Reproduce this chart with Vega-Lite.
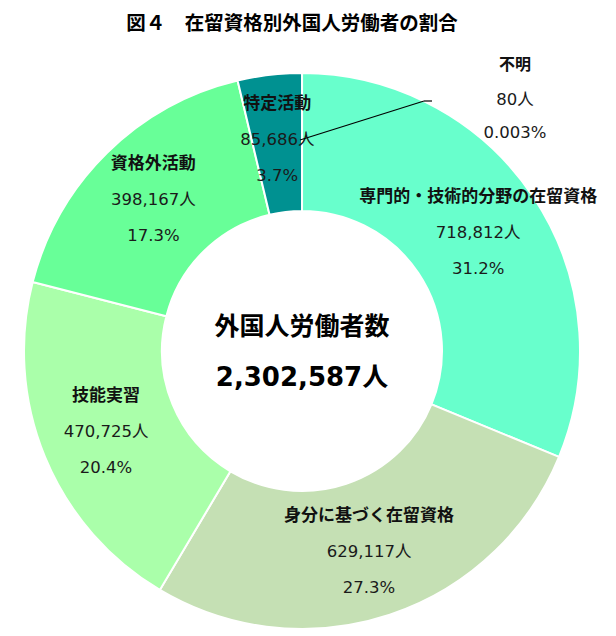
{
  "$schema": "https://vega.github.io/schema/vega-lite/v6.json",
  "description": "在留資格別外国人労働者の割合",
  "autosize": "none",
  "padding": {"left": 0, "right": 12, "top": 40, "bottom": 0},
  "width": 604,
  "height": 622,
  "title": {
    "text": "図４　在留資格別外国人労働者の割合",
    "font": "Noto Sans CJK JP",
    "fontSize": 19.5,
    "fontWeight": "bold",
    "color": "black",
    "anchor": "middle",
    "frame": "group",
    "baseline": "middle",
    "offset": 18,
    "dy": 21,
    "dx": -10
  },
  "data": {
    "values": [
      {"category": "不明", "count": 80, "share": "0.003%"},
      {"category": "専門的・技術的分野の在留資格", "count": 718812, "share": "31.2%"},
      {"category": "身分に基づく在留資格", "count": 629117, "share": "27.3%"},
      {"category": "技能実習", "count": 470725, "share": "20.4%"},
      {"category": "資格外活動", "count": 398167, "share": "17.3%"},
      {"category": "特定活動", "count": 85686, "share": "3.7%"}
    ]
  },
  "transform": [
    {"window": [{"op": "row_number", "as": "idx"}]},
    {"calculate": "format(datum.count, ',') + '人'", "as": "countLabel"}
  ],
  "layer": [
    {
      "mark": {"type": "arc", "outerRadius": 278, "innerRadius": 140, "stroke": "white", "strokeWidth": 2},
      "encoding": {
        "theta": {"field": "count", "type": "quantitative", "stack": true},
        "order": {"field": "idx", "type": "quantitative"},
        "color": {
          "field": "category",
          "type": "nominal",
          "scale": {
            "domain": ["不明", "専門的・技術的分野の在留資格", "身分に基づく在留資格", "技能実習", "資格外活動", "特定活動"],
            "range": ["#7f7f7f", "#68FFCC", "#C5E0B4", "#AAFFAA", "#68FF98", "#009191"]
          },
          "legend": null
        }
      }
    },
    {
      "mark": {"type": "text", "radius": 212, "dy": -36, "font": "Noto Sans CJK JP", "fontWeight": "bold", "fontSize": 17, "color": "#111111"},
      "encoding": {
        "theta": {"field": "count", "type": "quantitative", "stack": true},
        "order": {"field": "idx", "type": "quantitative"},
        "text": {"condition": {"test": "datum.category == '不明'", "value": ""}, "field": "category"}
      }
    },
    {
      "mark": {"type": "text", "radius": 212, "dy": 0, "font": "DejaVu Sans, Noto Sans CJK JP", "fontSize": 16.5, "color": "#1a1a1a"},
      "encoding": {
        "theta": {"field": "count", "type": "quantitative", "stack": true},
        "order": {"field": "idx", "type": "quantitative"},
        "text": {"condition": {"test": "datum.category == '不明'", "value": ""}, "field": "countLabel"}
      }
    },
    {
      "mark": {"type": "text", "radius": 212, "dy": 36, "font": "DejaVu Sans, Noto Sans CJK JP", "fontSize": 16.5, "color": "#1a1a1a"},
      "encoding": {
        "theta": {"field": "count", "type": "quantitative", "stack": true},
        "order": {"field": "idx", "type": "quantitative"},
        "text": {"condition": {"test": "datum.category == '不明'", "value": ""}, "field": "share"}
      }
    },
    {
      "transform": [{"filter": "datum.category == '不明'"}],
      "mark": {"type": "text", "radius": 251, "dx": 213, "dy": -35, "font": "Noto Sans CJK JP", "fontWeight": "bold", "fontSize": 16, "color": "#111111"},
      "encoding": {
        "theta": {"field": "count", "type": "quantitative", "stack": true},
        "text": {"field": "category"}
      }
    },
    {
      "transform": [{"filter": "datum.category == '不明'"}],
      "mark": {"type": "text", "radius": 251, "dx": 213, "dy": 0, "font": "DejaVu Sans, Noto Sans CJK JP", "fontSize": 16.5, "color": "#1a1a1a"},
      "encoding": {
        "theta": {"field": "count", "type": "quantitative", "stack": true},
        "text": {"field": "countLabel"}
      }
    },
    {
      "transform": [{"filter": "datum.category == '不明'"}],
      "mark": {"type": "text", "radius": 251, "dx": 213, "dy": 33, "font": "DejaVu Sans, Noto Sans CJK JP", "fontSize": 16.5, "color": "#1a1a1a"},
      "encoding": {
        "theta": {"field": "count", "type": "quantitative", "stack": true},
        "text": {"field": "share"}
      }
    },
    {
      "transform": [
        {"aggregate": [{"op": "sum", "field": "count", "as": "total"}]},
        {"calculate": "format(datum.total, ',') + '人'", "as": "totalLabel"}
      ],
      "layer": [
        {
          "mark": {"type": "text", "text": "外国人労働者数", "dy": -24, "font": "Noto Sans CJK JP", "fontWeight": "bold", "fontSize": 25, "color": "black"},
          "encoding": {}
        },
        {
          "mark": {"type": "text", "dy": 27, "font": "DejaVu Sans, Noto Sans CJK JP", "fontWeight": "bold", "fontSize": 26, "color": "black"},
          "encoding": {"text": {"field": "totalLabel"}}
        }
      ]
    },
    {
      "data": {"values": [{"seg": "diagonal"}]},
      "mark": {"type": "rule", "color": "black", "strokeWidth": 1.2},
      "encoding": {
        "x": {"datum": -2, "type": "quantitative", "scale": {"domain": [-302, 302]}, "axis": null},
        "y": {"datum": 211, "type": "quantitative", "scale": {"domain": [-311, 311]}, "axis": null},
        "x2": {"datum": 122},
        "y2": {"datum": 250}
      }
    },
    {
      "data": {"values": [{"seg": "tick"}]},
      "mark": {"type": "rule", "color": "black", "strokeWidth": 1.2},
      "encoding": {
        "x": {"datum": 122, "type": "quantitative", "scale": {"domain": [-302, 302]}, "axis": null},
        "y": {"datum": 250, "type": "quantitative", "scale": {"domain": [-311, 311]}, "axis": null},
        "x2": {"datum": 130},
        "y2": {"datum": 250}
      }
    }
  ],
  "config": {"view": {"stroke": null}}
}
